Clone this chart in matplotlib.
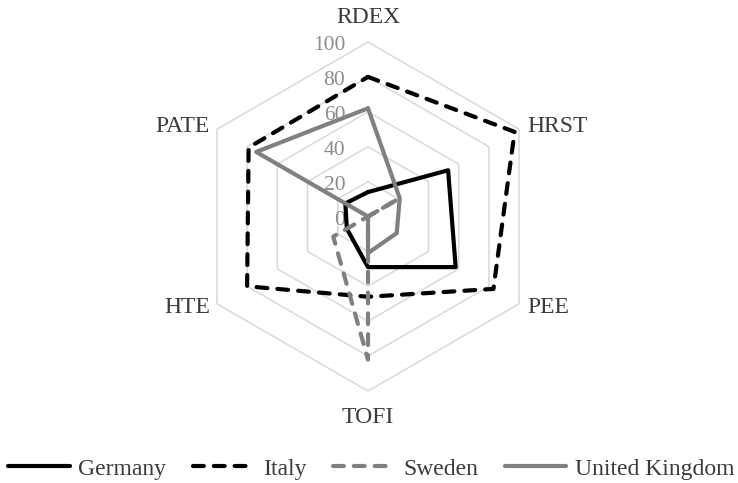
import numpy as np
import matplotlib
matplotlib.use('Agg')
import matplotlib.pyplot as plt

plt.rcParams['font.family'] = ['Liberation Serif', 'DejaVu Serif']

# data (0-100 scale)
categories = ['RDEX', 'HRST', 'PEE', 'TOFI', 'HTE', 'PATE']
germany = [14, 53, 58, 29, 14, 15]
italy = [80, 97, 83, 46, 80, 79]
sweden = [0, 20, 0, 82, 23, 0]
uk = [62, 21, 19, 21, 0, 74]
ticks = [0, 20, 40, 60, 80, 100]

angles = np.deg2rad(90 - 60 * np.arange(len(categories)))


def xy(vals):
    v = np.append(vals, vals[0])
    a = np.append(angles, angles[0])
    return v * np.cos(a), v * np.sin(a)


fig = plt.figure(figsize=(7.38, 4.83), dpi=100)
ax = fig.add_axes([0.2149, 0.1182, 0.5675, 0.8671])
ax.set_xlim(-120, 120)
ax.set_ylim(-120, 120)
ax.set_aspect('equal')
ax.axis('off')

# hexagon grid
for t in ticks[1:]:
    gx, gy = xy([t] * 6)
    ax.plot(gx, gy, color='#d9d9d9', lw=1.1, zorder=1)

# tick labels along top axis
for t in ticks:
    ax.text(-13, t - 4.6, str(t), ha='right', va='baseline',
            fontsize=15.5, color='#8c8c8c', zorder=2)

# category labels
lab_pos = {'RDEX': (0.5, 110.7, 'center'), 'HRST': (91.5, 48.3, 'left'),
           'PEE': (91.5, -55.5, 'left'), 'TOFI': (0, -118.2, 'center'),
           'HTE': (-90.5, -55.5, 'right'), 'PATE': (-90.5, 48.3, 'right')}
for c in categories:
    x, y, ha = lab_pos[c]
    ax.text(x, y, c, ha=ha, va='baseline', fontsize=17, color='#3b3b3b')

dash = (0, (2.6, 2.4))
series = [('Germany', germany, 'black', '-'),
          ('Italy', italy, 'black', dash),
          ('Sweden', sweden, '#808080', dash),
          ('United Kingdom', uk, '#808080', '-')]
handles = []
for name, vals, col, ls in series:
    sx, sy = xy(vals)
    h, = ax.plot(sx, sy, color=col, ls=ls, lw=3, label=name, zorder=3,
                 dash_capstyle='round', solid_joinstyle='round',
                 solid_capstyle='round', clip_on=False)
    handles.append(h)

leg = fig.legend(handles=handles, loc='center', bbox_to_anchor=(0.503, 0.029),
                 ncol=4, frameon=False, fontsize=17, handlelength=2.6,
                 handletextpad=0.35, columnspacing=1.15, borderpad=0,
                 borderaxespad=0)
for t in leg.get_texts():
    t.set_color('#3b3b3b')

fig.savefig('out.png', dpi=100)
